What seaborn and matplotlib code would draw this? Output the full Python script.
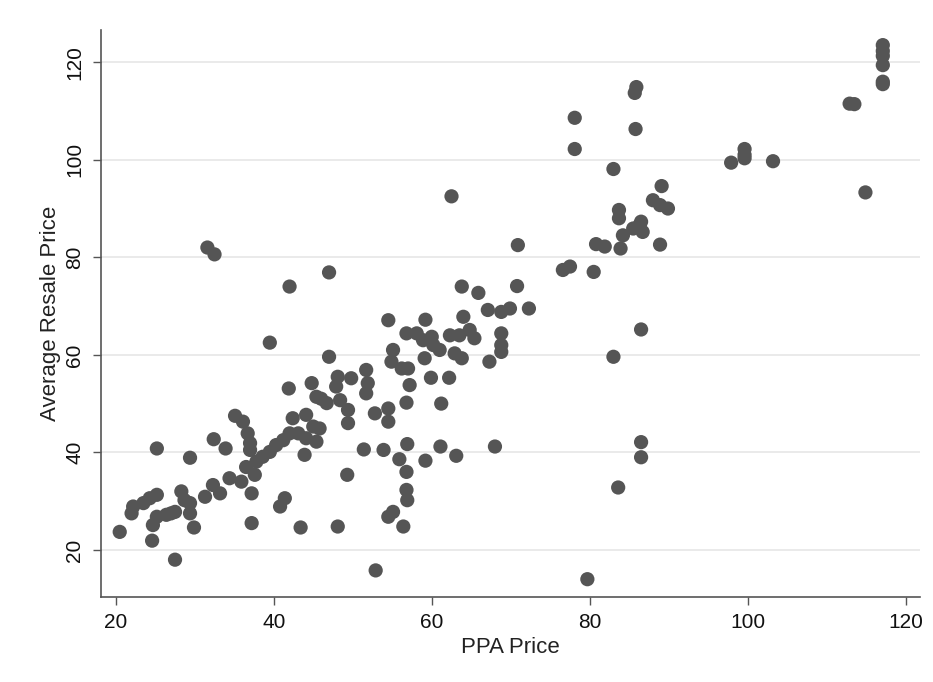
import numpy as np
import pandas as pd
import seaborn as sns
import matplotlib.pyplot as plt

# values
ppa_price = [20.5, 22.0, 22.2, 23.5, 24.3, 25.2, 24.6, 24.7, 25.2, 25.2,
             26.4, 27.0, 27.5, 27.5, 28.3, 28.7, 29.4, 29.4, 29.4, 29.9,
             31.3, 31.6, 32.5, 32.3, 33.2, 32.4, 33.9, 34.4, 35.1, 35.9,
             36.1, 36.5, 36.7, 37.0, 37.0, 37.2, 37.2, 37.6, 37.8, 38.6,
             39.5, 39.5, 40.3, 40.8, 41.2, 41.4, 41.9, 42.0, 42.0, 42.4,
             43.1, 43.4, 43.9, 44.1, 44.1, 45.0, 45.4, 45.8, 44.8, 45.4,
             46.0, 46.7, 47.0, 47.0, 48.1, 47.9, 49.8, 48.4, 49.4, 49.4,
             49.3, 48.1, 51.7, 51.9, 51.7, 51.4, 52.8, 52.9, 53.9, 54.5,
             54.5, 54.5, 54.5, 55.1, 55.1, 54.9, 56.2, 57.0, 57.2, 56.8,
             56.4, 55.9, 56.9, 56.8, 56.8, 56.9, 56.8, 58.1, 58.9, 59.2,
             60.0, 60.2, 61.0, 59.1, 59.9, 59.2, 61.2, 61.1, 62.2, 62.3,
             63.5, 62.5, 62.9, 63.8, 63.1, 64.0, 63.8, 64.8, 65.4, 65.9,
             67.3, 67.1, 68.8, 69.9, 68.0, 68.8, 68.8, 68.8, 70.8, 70.9,
             72.3, 76.6, 77.5, 78.1, 78.1, 79.7, 80.5, 80.8, 81.9, 83.0,
             83.0, 83.6, 83.7, 83.7, 83.9, 84.2, 85.5, 85.9, 85.7, 85.8,
             86.3, 86.5, 86.7, 86.5, 86.5, 86.5, 88.0, 88.9, 89.9, 89.1,
             88.9, 97.9, 99.6, 99.6, 99.6, 103.2, 112.9, 113.5, 114.9, 117.1,
             117.1, 117.1, 117.1, 117.1, 117.1]
resale_price = [23.7, 27.5, 28.9, 29.6, 30.6, 31.3, 21.9, 25.1, 26.8, 40.8,
                27.2, 27.5, 27.8, 18.0, 32.0, 30.2, 29.6, 27.5, 38.9, 24.6,
                30.9, 82.0, 80.6, 33.3, 31.6, 42.7, 40.8, 34.7, 47.5, 34.0,
                46.3, 37.0, 43.9, 41.9, 40.5, 31.6, 25.5, 35.4, 38.1, 39.1,
                40.1, 62.5, 41.5, 28.9, 42.5, 30.6, 53.1, 74.0, 43.9, 47.0,
                43.9, 24.6, 39.5, 47.7, 42.9, 45.3, 42.2, 44.9, 54.2, 51.4,
                51.0, 50.1, 76.9, 59.6, 55.5, 53.5, 55.2, 50.7, 48.7, 46.0,
                35.4, 24.8, 56.9, 54.2, 52.1, 40.6, 48.0, 15.8, 40.5, 49.0,
                46.3, 67.1, 26.8, 27.8, 61.0, 58.6, 57.2, 57.2, 53.8, 50.2,
                24.8, 38.6, 41.7, 36.0, 32.3, 30.2, 64.4, 64.4, 63.0, 67.2,
                63.7, 62.0, 61.0, 59.3, 55.3, 38.3, 50.0, 41.2, 55.3, 64.0,
                64.0, 92.5, 60.3, 59.3, 39.3, 67.8, 74.0, 65.1, 63.4, 72.7,
                58.6, 69.2, 68.8, 69.5, 41.2, 64.4, 62.0, 60.6, 74.1, 82.5,
                69.5, 77.4, 78.1, 108.6, 102.2, 14.0, 77.0, 82.7, 82.2, 98.1,
                59.6, 32.8, 89.7, 88.0, 81.8, 84.5, 85.9, 114.9, 113.7, 106.3,
                86.6, 87.3, 85.2, 65.2, 42.1, 39.0, 91.7, 90.7, 90.0, 94.6,
                82.6, 99.4, 102.2, 101.0, 100.3, 99.7, 111.5, 111.4, 93.3, 123.5,
                122.3, 121.3, 119.4, 116.0, 115.5]

df = pd.DataFrame({"PPA Price": ppa_price, "Average Resale Price": resale_price})

sns.set_style("white")
plt.rcParams["font.family"] = ["Liberation Sans", "DejaVu Sans"]

fig = plt.figure(figsize=(9.33, 6.82), dpi=100)
ax = fig.add_axes([0.108, 0.125, 0.878, 0.831])

ax.yaxis.grid(True, color="#e6e6e6", linewidth=1.2)
ax.set_axisbelow(True)
sns.scatterplot(data=df, x="PPA Price", y="Average Resale Price",
                color="#555555", s=105, edgecolor="none", alpha=1, ax=ax)

ax.set_xlim(18.1, 121.8)
ax.set_ylim(10.4, 126.6)
ax.set_xticks([20, 40, 60, 80, 100, 120])
ax.set_yticks([20, 40, 60, 80, 100, 120])
ax.tick_params(axis="both", direction="out", length=6, width=1, color="#555555",
               labelsize=15, pad=6, left=True, bottom=True, labelcolor="#111111")
for lab in ax.get_yticklabels():
    lab.set_rotation(90)
    lab.set_va("center")

sns.despine(ax=ax)
for side in ["left", "bottom"]:
    ax.spines[side].set_color("#555555")
    ax.spines[side].set_linewidth(1.2)

ax.set_xlabel("PPA Price", fontsize=16, labelpad=3, color="#222222")
ax.set_ylabel("Average Resale Price", fontsize=16, labelpad=3, color="#222222")

plt.savefig("out.png", dpi=100)
